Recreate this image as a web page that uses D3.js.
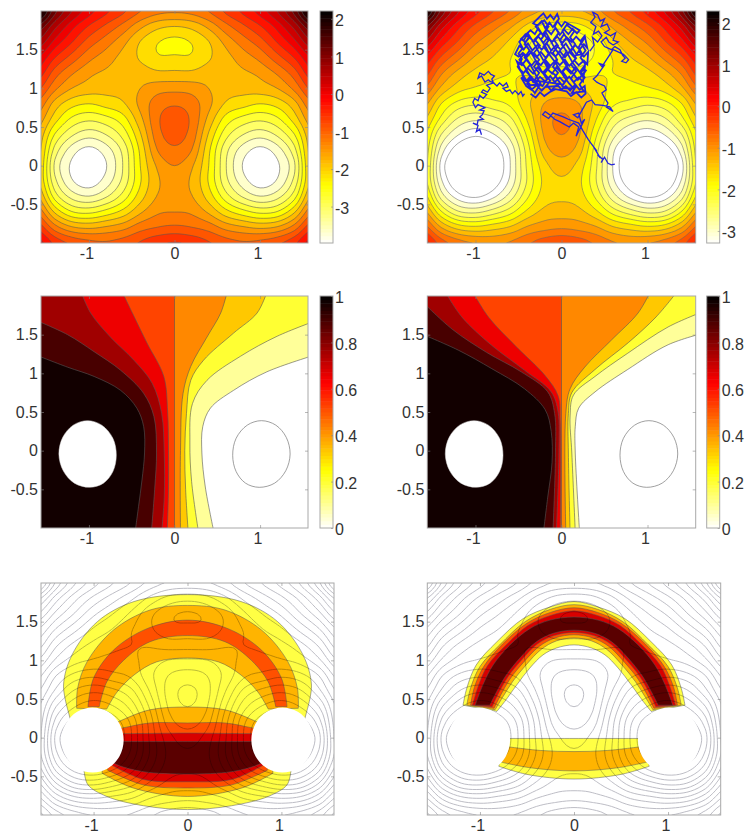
<!DOCTYPE html>
<html>
<head>
<meta charset="utf-8">
<script src="https://cdn.jsdelivr.net/npm/d3@7"></script>
<style>
  body { margin: 0; background: #fff; }
  text { font-family: "Liberation Sans", Arial, sans-serif; font-size: 16px; fill: #333; }
</style>
</head>
<body>
<svg id="fig" width="747" height="834"></svg>
<script>
// potential surface, top row is y=2, last row y=-1
// columns are x = 0, .2, .4 ... 1.6 (the left half is the mirror image)
var potentialRows = [
  [-1.15, -1.1, -.88, -.52, -.2, .17, .65, 1.38, 2.5],
  [-1.81, -1.72, -1.42, -1.0, -.65, -.3, .15, .75, 1.55],
  [-2.2, -2.1, -1.82, -1.4, -1.05, -.72, -.25, .25, .9],
  [-2.08, -2.08, -1.85, -1.6, -1.35, -1.1, -.7, -.25, .35],
  [-1.75, -1.75, -1.65, -1.62, -1.55, -1.42, -1.15, -.72, -.05],
  [-1.3, -1.33, -1.5, -1.68, -1.7, -1.65, -1.5, -1.12, -.5],
  [-.93, -1.05, -1.42, -1.85, -2.0, -2.12, -2.0, -1.62, -.95],
  [-.72, -.95, -1.6, -2.25, -2.55, -2.68, -2.5, -1.98, -1.3],
  [-.78, -1.02, -1.85, -2.62, -3.05, -3.23, -3.0, -2.45, -1.55],
  [-.95, -1.2, -2.05, -2.95, -3.5, -3.76, -3.5, -2.85, -1.65],
  [-1.2, -1.45, -2.12, -3.03, -3.68, -3.97, -3.72, -3.1, -1.7],
  [-1.38, -1.55, -2.15, -2.95, -3.52, -3.84, -3.62, -2.95, -1.75],
  [-1.38, -1.48, -1.95, -2.6, -3.08, -3.33, -3.15, -2.55, -1.45],
  [-1.2, -1.25, -1.55, -2.0, -2.3, -2.5, -2.4, -1.85, -.95],
  [-.82, -.88, -1.02, -1.3, -1.45, -1.55, -1.45, -1.05, -.35],
  [-.25, -.35, -.55, -.75, -.85, -.8, -.65, -.35, .2]
];
var potentialLevelsA = [-3.97, -3.66, -3.35, -3.05, -2.74, -2.43, -2.12, -1.81, -1.5, -1.2, -.89, -.58, -.27, .04, .34, .65, .96, 1.27, 1.58, 1.89];
var potentialLevelsB = [-3.29, -3.01, -2.73, -2.45, -2.17, -1.9, -1.62, -1.34, -1.06, -.78, -.5, -.22, .06, .34, .62, .9, 1.17, 1.45, 1.73, 2.01];
var colorRangeA = [-3.97, 2.21];
var colorRangeB = [-3.29, 2.29];

var xTicks = [-1, 0, 1];
var yTicks = [-.5, 0, .5, 1, 1.5];
var barTicksA = [-3, -2, -1, 0, 1, 2];
var barTicksQ = [0, .2, .4, .6, .8, 1];

// committor level lines, top to bottom, levels .1 ... .9
var levelsQ = [.1, .2, .3, .4, .5, .6, .7, .8, .9];
var colorsQ = ['#ffff99', '#ffff33', '#ffc800', '#ff8800', '#ff4400', '#ee0000', '#a00000', '#480000', '#120000'];
var committorLeft = [
  [[1.65, 1.24], [1.08, 1.02], [.69, .78], [.42, .55], [.33, .31], [.32, -.03], [.36, -.47], [.46, -1.05]],
  [[1.65, 1.68], [1.2, 1.48], [.77, 1.22], [.38, .91], [.21, .61], [.18, .1], [.2, -.4], [.28, -1.05]],
  [[1.08, 2.05], [.965, 1.78], [.69, 1.52], [.34, 1.17], [.19, .91], [.14, .48], [.12, 0], [.13, -.5], [.16, -1.05]],
  [[.615, 2.05], [.54, 1.78], [.38, 1.47], [.19, 1.09], [.1, .74], [.07, 0], [.07, -1.05]],
  [[0, 2.05], [0, -1.05]],
  [[-.61, 2.05], [-.47, 1.73], [-.32, 1.39], [-.125, .96], [-.08, .5], [-.07, 0], [-.07, -.5], [-.085, -1.05]],
  [[-1.09, 2.05], [-.98, 1.78], [-.75, 1.47], [-.475, 1.17], [-.26, .87], [-.15, .48], [-.12, -.03], [-.12, -.6], [-.15, -1.05]],
  [[-1.65, 1.7], [-1.25, 1.5], [-.94, 1.28], [-.63, 1.04], [-.36, .74], [-.24, .44], [-.21, -.03], [-.23, -.47], [-.27, -1.05]],
  [[-1.65, 1.25], [-1.25, 1.08], [-.94, .96], [-.63, .78], [-.44, .55], [-.36, .31], [-.35, -.03], [-.38, -.38], [-.42, -.72], [-.46, -1.05]]
];
var committorRight = [
  [[1.65, 1.52], [1.24, 1.37], [.77, 1.05], [.39, .76], [.2, .55], [.16, .31], [.16, -.03], [.21, -1.05]],
  [[1.65, 1.8], [1.24, 1.6], [.77, 1.26], [.39, .96], [.14, .72], [.1, .45], [.12, -.03], [.16, -1.05]],
  [[1.34, 2.05], [1.1, 1.73], [.78, 1.4], [.39, 1.05], [.12, .75], [.08, .48], [.08, -.03], [.1, -1.05]],
  [[1.03, 2.05], [.89, 1.78], [.58, 1.43], [.27, 1.08], [.1, .8], [.05, .48], [.05, -1.05]],
  [[0, 2.05], [0, -1.05]],
  [[-1.03, 2.05], [-.85, 1.73], [-.54, 1.36], [-.19, .97], [-.04, .71], [-.015, .38], [-.015, -1.05]],
  [[-1.35, 2.05], [-1.16, 1.73], [-.81, 1.36], [-.43, 1.04], [-.12, .76], [-.04, .5], [-.03, -.03], [-.06, -1.05]],
  [[-1.65, 1.96], [-1.27, 1.57], [-.87, 1.27], [-.47, 1.02], [-.16, .76], [-.08, .48], [-.07, -.03], [-.1, -1.05]],
  [[-1.65, 1.52], [-1.2, 1.3], [-.81, 1.06], [-.43, .8], [-.19, .53], [-.12, .25], [-.11, -.15], [-.16, -.6], [-.21, -1.05]]
];
var wellRing = [[1.016, .388], [1.184, .33], [1.306, .172], [1.351, -.043], [1.3, -.26], [1.17, -.42], [.99, -.474], [.83, -.42], [.72, -.27], [.68, -.06], [.72, .16], [.85, .33]];
var setOutline = [[1.01, .39], [1.175, .334], [1.296, .18], [1.34, -.03], [1.296, -.24], [1.175, -.394], [1.01, -.45], [.845, -.394], [.724, -.24], [.68, -.03], [.724, .18], [.845, .334]];

// reactive density bands, half arcs from the left end to x=0: [level, upper edge, lower edge]
var densityColors = ['#ffff44', '#ffb400', '#ff5000', '#d80000', '#5a0000'];
var densityBandsLeft = [
  [0, [[-1.27, .34], [-1.32, .68], [-1.23, 1.07], [-.96, 1.5], [-.57, 1.76], [0, 1.85]], [[-1.1, -.44], [-1.06, -.61], [-.86, -.76], [-.47, -.88], [0, -.93]]],
  [1, [[-1.18, .38], [-1.17, .64], [-1.07, .98], [-.79, 1.39], [-.4, 1.65], [0, 1.71]], [[-.86, .37], [-.75, .59], [-.57, .81], [-.33, .98], [0, 1.03]]],
  [1, [[-.85, .14], [-.73, .21], [-.4, .36], [0, .396]], [[-.91, -.46], [-.58, -.65], [0, -.76]]],
  [2, [[-1.06, .4], [-1, .77], [-.79, 1.13], [-.43, 1.41], [0, 1.52]], [[-.94, .4], [-.86, .72], [-.68, 1], [-.4, 1.24], [0, 1.32]]],
  [2, [[-.85, .1], [-.72, .12], [-.4, .19], [0, .19]], [[-.85, -.42], [-.47, -.61], [0, -.65]]],
  [3, [[-.85, .05], [-.4, .055], [0, .06]], [[-.81, -.355], [-.47, -.54], [0, -.57]]],
  [4, [[-.85, -.05], [0, -.05]], [[-.85, -.28], [-.74, -.355], [-.47, -.44], [0, -.47]]]
];
var densityBandsRight = [
  [0, [[-1.18, .42], [-1.14, .64], [-1.04, .94], [-.82, 1.24], [-.54, 1.54], [-.255, 1.69], [0, 1.76]], [[-.82, .34], [-.735, .47], [-.61, .68], [-.47, .9], [-.33, 1.07], [-.185, 1.16], [0, 1.2]]],
  [1, [[-1.14, .42], [-1.1, .64], [-1, .92], [-.79, 1.2], [-.52, 1.5], [-.25, 1.66], [0, 1.72]], [[-.84, .36], [-.76, .52], [-.65, .73], [-.51, .94], [-.35, 1.14], [-.19, 1.25], [0, 1.29]]],
  [2, [[-1.1, .42], [-1.06, .65], [-.96, .92], [-.76, 1.21], [-.5, 1.48], [-.25, 1.62], [0, 1.68]], [[-.85, .38], [-.78, .55], [-.68, .76], [-.54, .97], [-.37, 1.18], [-.2, 1.29], [0, 1.33]]],
  [3, [[-1.08, .42], [-1.02, .66], [-.92, .93], [-.72, 1.2], [-.49, 1.45], [-.25, 1.58], [0, 1.64]], [[-.87, .4], [-.8, .58], [-.7, .79], [-.56, 1], [-.39, 1.21], [-.21, 1.32], [0, 1.36]]],
  [4, [[-1.05, .42], [-.97, .68], [-.86, .94], [-.68, 1.2], [-.47, 1.41], [-.255, 1.52], [0, 1.56]], [[-.895, .42], [-.82, .6], [-.72, .81], [-.575, 1.03], [-.4, 1.24], [-.22, 1.35], [0, 1.39]]],
  [0, [[-.75, -.01], [0, -.01]], [[-.8, -.37], [-.5, -.475], [0, -.535]]],
  [1, [[-.75, -.11], [-.36, -.165], [0, -.18]], [[-.78, -.315], [-.46, -.39], [0, -.43]]]
];

// one long sample path, read from the scribble in the top right panel, cut in three
var walkBranch = [
  [-.93, .4], [-.95, .47], [-.99, .44], [-.97, .52], [-1.03, .55], [-.98, .53], [-.97, .59], [-.91, .6], [-.95, .63], [-.92, .66], [-.9, .71], [-.95, .72], [-.89, .75], [-.93, .77], [-.97, .79], [-1.0, .75],
  [-1.03, .82], [-1.01, .87], [-.97, .84], [-.95, .91], [-.91, .87], [-.87, .92], [-.93, .95], [-.91, .98], [-.86, .95], [-.83, 1], [-.87, 1.04], [-.79, 1.07], [-.83, 1.09], [-.85, 1.11], [-.89, 1.08], [-.93, 1.16],
  [-.97, 1.13], [-.95, 1.2], [-.9, 1.17], [-.85, 1.22], [-.82, 1.18], [-.78, 1.16], [-.81, 1.12], [-.79, 1.07], [-.75, 1.03], [-.72, 1.07], [-.68, 1.03], [-.64, 1.07], [-.62, 1.02], [-.68, 1], [-.64, .96], [-.6, .98],
  [-.57, .93], [-.54, .97], [-.5, .92], [-.47, .96], [-.45, .9], [-.43, .93]
];
var walkCloud = [
  [-.36, .93], [-.3, .88], [-.25, .95], [-.2, .9], [-.14, .95], [-.07, .99], [.06, .96], [.11, .9], [.17, .95], [.23, .88], [.28, .93],
  [.27, 1.03], [.21, .98], [.16, 1.05], [.1, .97], [.05, 1.03], [0, .98], [-.05, 1.05], [-.12, .97], [-.17, 1.04], [-.23, .97], [-.29, 1.04], [-.35, .98], [-.41, 1.03],
  [-.47, 1.14], [-.41, 1.09], [-.36, 1.16], [-.3, 1.08], [-.25, 1.15], [-.19, 1.09], [-.13, 1.16], [-.08, 1.08], [-.02, 1.14], [.03, 1.08], [.09, 1.15], [.14, 1.08], [.2, 1.14], [.25, 1.09],
  [.27, 1.26], [.22, 1.2], [.16, 1.27], [.11, 1.19], [.05, 1.26], [0, 1.2], [-.06, 1.27], [-.11, 1.19], [-.17, 1.26], [-.22, 1.2], [-.28, 1.27], [-.33, 1.19], [-.39, 1.26], [-.44, 1.2], [-.48, 1.24],
  [-.52, 1.35], [-.46, 1.3], [-.41, 1.37], [-.35, 1.29], [-.3, 1.36], [-.24, 1.3], [-.19, 1.37], [-.13, 1.29], [-.07, 1.36], [-.02, 1.3], [.04, 1.37], [.09, 1.29], [.15, 1.36], [.2, 1.3], [.26, 1.36], [.3, 1.31],
  [.31, 1.47], [.26, 1.41], [.2, 1.48], [.15, 1.4], [.09, 1.47], [.04, 1.4], [-.02, 1.48], [-.07, 1.41], [-.13, 1.47], [-.18, 1.39], [-.24, 1.47], [-.29, 1.4], [-.35, 1.47], [-.4, 1.41], [-.45, 1.46], [-.5, 1.41], [-.54, 1.44],
  [-.49, 1.55], [-.44, 1.5], [-.39, 1.58], [-.34, 1.49], [-.28, 1.56], [-.23, 1.5], [-.17, 1.58], [-.12, 1.49], [-.06, 1.56], [-.01, 1.5], [.05, 1.58], [.1, 1.49], [.16, 1.56], [.21, 1.5], [.26, 1.57], [.3, 1.52],
  [.27, 1.68], [.22, 1.61], [.17, 1.67], [.12, 1.6], [.06, 1.66], [.01, 1.59], [-.05, 1.67], [-.11, 1.6], [-.16, 1.66], [-.21, 1.59], [-.27, 1.67], [-.32, 1.6], [-.37, 1.66], [-.42, 1.6], [-.47, 1.64],
  [-.36, 1.75], [-.31, 1.7], [-.27, 1.78], [-.22, 1.69], [-.17, 1.76], [-.12, 1.7], [-.07, 1.78], [-.02, 1.69], [.03, 1.76], [.08, 1.7], [.13, 1.77], [.18, 1.71], [.21, 1.75],
  [.04, 1.86], [0, 1.8], [-.05, 1.87], [-.1, 1.79], [-.14, 1.85], [-.19, 1.78], [-.23, 1.87], [-.28, 1.81], [-.33, 1.84],
  [-.25, 1.93], [-.21, 1.97], [-.17, 1.9], [-.13, 1.95], [-.09, 1.89], [-.05, 1.96], [-.03, 1.9],
  [-.08, 1.8], [-.03, 1.72], [-.09, 1.63], [-.04, 1.55], [-.1, 1.46], [-.05, 1.37], [-.1, 1.28], [-.04, 1.2], [-.1, 1.11], [-.04, 1.03],
  [-.18, 1.02], [-.13, 1.1], [-.2, 1.19], [-.14, 1.27], [-.2, 1.36], [-.15, 1.45], [-.21, 1.54], [-.15, 1.62], [-.21, 1.71], [-.15, 1.8], [-.2, 1.88],
  [-.3, 1.8], [-.24, 1.72], [-.31, 1.63], [-.25, 1.55], [-.32, 1.46], [-.26, 1.37], [-.32, 1.28], [-.26, 1.2], [-.31, 1.11], [-.26, 1.03], [-.31, .94],
  [-.4, 1.06], [-.35, 1.14], [-.42, 1.23], [-.36, 1.31], [-.43, 1.4], [-.37, 1.49], [-.43, 1.57], [-.38, 1.66], [-.42, 1.7],
  [-.49, 1.6], [-.45, 1.52], [-.5, 1.45], [-.46, 1.38], [-.51, 1.28], [-.46, 1.2], [-.44, 1.12],
  [.02, 1.05], [.07, 1.13], [.01, 1.22], [.07, 1.3], [.01, 1.39], [.06, 1.48], [0, 1.57], [.06, 1.65], [.01, 1.74], [.06, 1.82],
  [.15, 1.74], [.1, 1.66], [.16, 1.57], [.11, 1.48], [.17, 1.39], [.11, 1.31], [.17, 1.22], [.11, 1.13], [.17, 1.03], [.12, .94],
  [.26, .96], [.21, 1.05], [.27, 1.14], [.22, 1.22], [.28, 1.31], [.22, 1.4], [.28, 1.49], [.23, 1.58], [.27, 1.66],
  // slanting passes that close the gaps left by the rows above
  [.24, 1.62], [.2, 1.53], [.24, 1.44], [.18, 1.43], [.13, 1.52], [.08, 1.62], [.03, 1.7], [-.02, 1.62], [.03, 1.53], [.08, 1.43], [.13, 1.33], [.19, 1.24], [.24, 1.16], [.29, 1.24],
  [.19, 1.11], [.13, 1.2], [.08, 1.25], [.03, 1.34], [-.02, 1.43], [-.08, 1.52], [-.13, 1.62], [-.18, 1.72], [-.24, 1.63], [-.18, 1.53], [-.13, 1.42], [-.07, 1.33], [-.02, 1.24], [.03, 1.15], [.09, 1.06], [.14, 1],
  [.03, 1], [-.03, 1.09], [-.08, 1.18], [-.14, 1.22], [-.19, 1.32], [-.24, 1.42], [-.29, 1.52], [-.34, 1.62], [-.39, 1.71], [-.44, 1.62], [-.39, 1.52], [-.33, 1.42], [-.28, 1.32], [-.23, 1.22], [-.17, 1.12], [-.22, 1.03],
  [-.33, 1.08], [-.38, 1.19], [-.44, 1.3], [-.49, 1.37], [-.44, 1.44], [-.38, 1.34], [-.33, 1.24], [-.28, 1.13], [-.24, 1.05], [-.36, 1.04], [-.42, 1.12], [-.47, 1.22]
];
var walkTail = [
  [.33, 1.48], [.38, 1.56], [.36, 1.66], [.42, 1.6], [.47, 1.68], [.43, 1.74], [.37, 1.7], [.4, 1.8], [.34, 1.85], [.39, 1.92], [.36, 1.99], [.42, 1.95], [.45, 1.87],
  [.5, 1.9], [.46, 1.8], [.53, 1.83], [.56, 1.76], [.5, 1.72], [.57, 1.68], [.63, 1.72], [.6, 1.62], [.66, 1.6], [.6, 1.56], [.55, 1.6], [.52, 1.66], [.46, 1.6], [.5, 1.54], [.58, 1.5], [.62, 1.54],
  [.68, 1.5], [.71, 1.43], [.74, 1.39], [.7, 1.35], [.75, 1.33], [.78, 1.37], [.74, 1.42], [.72, 1.44], [.6, 1.5],
  [.47, 1.28], [.44, 1.32], [.5, 1.3], [.46, 1.24], [.41, 1.16], [.37, 1.12], [.41, 1.08], [.46, 1.05], [.5, 1.03], [.52, .98], [.47, .94], [.5, .88], [.54, .81], [.52, .76], [.6, .7], [.56, .76],
  [.48, .78], [.39, .79], [.35, .85], [.29, .82], [.26, .76],
  [.19, .62], [.14, .66], [.2, .68], [.23, .55], [.27, .6], [.17, .38], [.2, .5], [.14, .55], [.09, .5], [.04, .53], [-.02, .57], [-.08, .6], [-.14, .66], [-.19, .7], [-.22, .66], [-.15, .61], [-.1, .68], [.02, .63], [.08, .6], [.2, .55],
  [.25, .45], [.31, .34], [.35, .28], [.41, .19], [.38, .23], [.45, .1], [.42, .14], [.48, .08], [.46, .04], [.5, .11], [.54, .03], [.58, .01], [.62, .02]
];

var svg = d3.select('#fig');
var defs = svg.append('defs');
var xDomain = [-1.56, 1.56];
var yDomain = [-1, 2];
var barWidth = 13;

//flipped "hot" map, low values white, high values black
function hotFlip(v, range) {
  var t = 1 - (v - range[0]) / (range[1] - range[0]);
  var r = Math.min(1, t / .375);
  var g = Math.max(0, Math.min(1, (t - .375) / .375));
  var b = Math.max(0, Math.min(1, (t - .75) / .25));
  return d3.rgb(r * 255, g * 255, b * 255).formatHex();
}

function makePanel(left, right, top, bottom, idx) {
  var p = {
    x: d3.scaleLinear().domain(xDomain).range([left, right]),
    y: d3.scaleLinear().domain(yDomain).range([bottom, top]),
    left: left, right: right, top: top, bottom: bottom
  };
  defs.append('clipPath').attr('id', 'clip' + idx)
    .append('rect').attr('x', left).attr('y', top).attr('width', right - left).attr('height', bottom - top);
  p.g = svg.append('g').attr('clip-path', 'url(#clip' + idx + ')');
  var xf = function (d) { return p.x(d[0]); };
  var yf = function (d) { return p.y(d[1]); };
  p.open = d3.line().x(xf).y(yf).curve(d3.curveCatmullRom.alpha(.5));
  p.closed = d3.line().x(xf).y(yf).curve(d3.curveCatmullRomClosed.alpha(.5));
  p.plain = d3.line().x(xf).y(yf);
  return p;
}

function drawAxes(p) {
  var frame = svg.append('g');
  frame.append('rect').attr('x', p.left).attr('y', p.top).attr('width', p.right - p.left).attr('height', p.bottom - p.top)
    .attr('fill', 'none').attr('stroke', '#a8a8a8').attr('stroke-width', 1);
  var fmt = function (d) { return String(d); };
  var bx = frame.append('g').attr('transform', 'translate(0,' + p.bottom + ')')
    .call(d3.axisBottom(p.x).tickValues(xTicks).tickSize(-3).tickPadding(4).tickFormat(fmt));
  var by = frame.append('g').attr('transform', 'translate(' + p.left + ',0)')
    .call(d3.axisLeft(p.y).tickValues(yTicks).tickSize(-3).tickPadding(3).tickFormat(fmt));
  var tx = frame.append('g').attr('transform', 'translate(0,' + p.top + ')')
    .call(d3.axisTop(p.x).tickValues(xTicks).tickSize(-3).tickFormat(''));
  var ry = frame.append('g').attr('transform', 'translate(' + p.right + ',0)')
    .call(d3.axisRight(p.y).tickValues(yTicks).tickSize(-3).tickFormat(''));
  [bx, by, tx, ry].forEach(function (a) {
    a.select('.domain').remove();
    a.selectAll('line').attr('stroke', '#888').attr('stroke-width', .6);
    a.selectAll('text').attr('font-size', null).attr('font-family', null);
  });
  bx.selectAll('text').attr('dy', '.72em').attr('dx', function (d) { return d ? -2.5 : 0; });
}

function drawBar(left, top, bottom, range, ticks) {
  var scale = d3.scaleLinear().domain(range).range([bottom, top]);
  var steps = d3.range(0, 64);
  svg.append('g').selectAll('rect').data(steps).enter().append('rect')
    .attr('x', left).attr('width', barWidth)
    .attr('y', function (d) { return scale(range[0] + (d + 1) * (range[1] - range[0]) / 64); })
    .attr('height', (bottom - top) / 64 + .5)
    .attr('fill', function (d) { return hotFlip(range[0] + (d + .5) * (range[1] - range[0]) / 64, range); });
  svg.append('rect').attr('x', left).attr('y', top).attr('width', barWidth).attr('height', bottom - top)
    .attr('fill', 'none').attr('stroke', '#a8a8a8');
  var a = svg.append('g').attr('transform', 'translate(' + (left + barWidth) + ',0)')
    .call(d3.axisRight(scale).tickValues(ticks).tickSize(-2).tickPadding(2).tickFormat(function (d) { return String(d); }));
  a.select('.domain').remove();
  a.selectAll('line').attr('stroke', '#888').attr('stroke-width', .6);
  a.selectAll('text').attr('font-size', null).attr('font-family', null).attr('dy', '.42em');
}

// whole field, mirrored about x=0
var coarseCols = potentialRows[0].length * 2 - 1;
var coarseRows = potentialRows.length;
var coarse = potentialRows.map(function (row) {
  return row.slice(1).reverse().concat(row);
});

// draw time resample of the read values, otherwise the contour lines come out with corners
var fineStep = 5;
function spline(a, b, c, d, t) {
  return b + .5 * t * (c - a + t * (2 * a - 5 * b + 4 * c - d + t * (3 * (b - c) + d - a)));
}
function sampleRow(row, u) {
  var i = Math.min(row.length - 2, Math.floor(u));
  return spline(row[Math.max(0, i - 1)], row[i], row[i + 1], row[Math.min(row.length - 1, i + 2)], u - i);
}
var fineCols = (coarseCols - 1) * fineStep + 1;
var fineRows = (coarseRows - 1) * fineStep + 1;
var fineValues = [];
d3.range(fineRows).forEach(function (j) {
  var v = j / fineStep;
  var i0 = Math.min(coarseRows - 2, Math.floor(v));
  d3.range(fineCols).forEach(function (i) {
    var u = i / fineStep;
    var col = [coarse[Math.max(0, i0 - 1)], coarse[i0], coarse[i0 + 1], coarse[Math.min(coarseRows - 1, i0 + 2)]]
      .map(function (row) { return sampleRow(row, u); });
    fineValues.push(spline(col[0], col[1], col[2], col[3], v - i0));
  });
});

function gridRings(levels) {
  return d3.contours().size([fineCols, fineRows]).smooth(true).thresholds(levels)(fineValues).map(function (c) {
    var rings = [];
    c.coordinates.forEach(function (poly) {
      poly.forEach(function (ring) {
        rings.push(ring.map(function (q) {
          return [-1.6 + (q[0] - .5) * .2 / fineStep, 2 - (q[1] - .5) * .2 / fineStep];
        }));
      });
    });
    return { level: c.value, rings: rings };
  });
}
function ringPath(p, rings) {
  return rings.map(function (r) { return p.plain(r) + 'Z'; }).join(' ');
}

function drawFilledPotential(p, levels, range) {
  gridRings(levels).forEach(function (c) {
    p.g.append('path').attr('d', ringPath(p, c.rings)).attr('fill-rule', 'evenodd')
      .attr('fill', hotFlip(c.level, range));
  });
}
function drawPotentialLines(p, levels, colour, width, blend) {
  gridRings(levels).forEach(function (c) {
    p.g.append('path').attr('d', ringPath(p, c.rings)).attr('fill', 'none')
      .attr('stroke', colour).attr('stroke-width', width)
      .style('mix-blend-mode', blend || 'normal');
  });
}

function drawCommittor(p, lines) {
  lines.forEach(function (line, i) {
    var start = line[0];
    var d = p.open(line) + 'L' + p.x(-1.75) + ',' + p.y(-1.1) + 'L' + p.x(-1.75) + ',' + p.y(2.1);
    if (start[0] > 1.6) d += 'L' + p.x(1.75) + ',' + p.y(2.1);
    p.g.append('path').attr('d', d + 'Z').attr('fill', colorsQ[i]);
  });
  lines.forEach(function (line) {
    p.g.append('path').attr('d', p.open(line)).attr('fill', 'none').attr('stroke', '#555').attr('stroke-width', .6);
  });
  var hole = wellRing.map(function (q) { return [-q[0], q[1]]; }).reverse();
  p.g.append('path').attr('d', p.closed(hole)).attr('fill', '#fff').attr('stroke', '#ddd').attr('stroke-width', .5);
  p.g.append('path').attr('d', p.closed(wellRing)).attr('fill', 'none').attr('stroke', '#777').attr('stroke-width', .7);
}

function mirrorArc(arc) {
  var back = arc.slice(0, -1).reverse().map(function (q) { return [-q[0], q[1]]; });
  return arc.concat(back);
}
function drawDensity(p, bands) {
  bands.forEach(function (b) {
    var upper = mirrorArc(b[1]);
    var lower = mirrorArc(b[2]).reverse();
    var d = p.open(upper) + p.open(lower).replace('M', 'L') + 'Z';
    p.g.append('path').attr('d', d).attr('fill', densityColors[b[0]]).attr('stroke', '#555').attr('stroke-width', .5);
  });
}
function drawSets(p) {
  [1, -1].forEach(function (side) {
    var pts = setOutline.map(function (q) { return [side * q[0], q[1]]; });
    p.g.append('path').attr('d', p.closed(pts)).attr('fill', '#fff');
  });
}

// top row
var p1 = makePanel(41, 308, 11, 243, 1);
drawFilledPotential(p1, potentialLevelsA, colorRangeA);
drawPotentialLines(p1, potentialLevelsA.slice(1), '#555', .55);
drawAxes(p1);
drawBar(320, 11, 243, colorRangeA, barTicksA);

var p2 = makePanel(427.3, 695.7, 11, 243, 2);
drawFilledPotential(p2, potentialLevelsB, colorRangeB);
drawPotentialLines(p2, potentialLevelsB, '#666', .55);
[[walkBranch, 1.3], [walkCloud, 1.8], [walkTail, 1.3]].forEach(function (part) {
  p2.g.append('path').attr('d', p2.plain(part[0]))
    .attr('fill', 'none').attr('stroke', '#2424da').attr('stroke-width', part[1]);
});
drawAxes(p2);
drawBar(706.7, 11, 243, colorRangeB, barTicksA);

// middle row
var p3 = makePanel(41, 308, 296, 528, 3);
drawCommittor(p3, committorLeft);
drawAxes(p3);
drawBar(320, 296, 528, [0, 1], barTicksQ);

var p4 = makePanel(427.3, 695.7, 296, 528, 4);
drawCommittor(p4, committorRight);
drawAxes(p4);
drawBar(706.7, 296, 528, [0, 1], barTicksQ);

// bottom row
var p5 = makePanel(41, 334, 583, 815, 5);
drawDensity(p5, densityBandsLeft);
drawPotentialLines(p5, potentialLevelsB, '#b6b6be', .9, 'multiply');
drawSets(p5);
drawAxes(p5);

var p6 = makePanel(427.3, 720.7, 583, 815, 6);
drawDensity(p6, densityBandsRight);
drawPotentialLines(p6, potentialLevelsB, '#b6b6be', .9, 'multiply');
drawSets(p6);
drawAxes(p6);
</script>
</body>
</html>
